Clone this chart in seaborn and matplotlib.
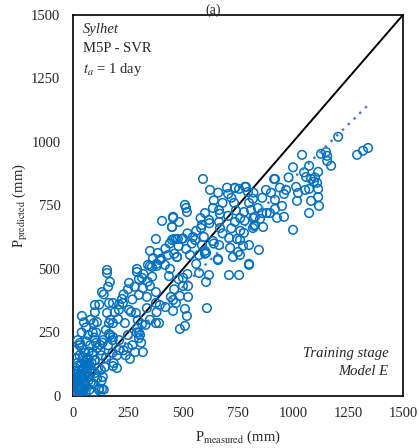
import numpy as np
import pandas as pd
import matplotlib
matplotlib.use("Agg")
import matplotlib.pyplot as plt
import seaborn as sns

# valores (mm)
p_measured = [
    2, 3, 5, 6, 8, 10, 4, 12, 15, 7, 18, 20, 3, 10, 25, 14, 22, 28, 9, 30,
    35, 5, 16, 40, 12, 25, 45, 50, 20, 35, 55, 60, 8, 30, 48, 65, 70, 15, 40, 75,
    80, 85, 22, 55, 90, 95, 100, 110, 60, 120, 130, 140, 115, 1, 2, 4, 6, 3, 11, 13,
    19, 24, 33, 38, 42, 0, 1, 0, 2, 17, 27, 44, 52, 58, 66, 72, 78, 88, 98, 105,
    125, 135, 150, 160, 170, 185, 200, 210, 230, 250, 270, 290, 310, 240, 180,
    155, 168, 132, 100, 41, 164, 182, 223, 227, 255, 291, 314, 350, 318, 377, 300, 336,
    255, 264, 209, 155, 95, 109, 164, 182, 205, 236, 295, 314, 377, 391, 305, 300, 291,
    164, 182, 136, 105, 123, 32, 209, 259, 282, 318, 45, 64, 73, 100, 182, 145, 127,
    100, 136, 132, 118, 45, 436, 441, 418, 382, 359, 341, 445, 455, 377, 395, 336, 286,
    800, 709, 755, 618, 605, 609, 523, 523, 500, 486, 468, 455, 509, 518, 509, 486,
    500, 573, 659,
    405, 455, 450, 450, 468, 377, 350, 386, 432, 364, 395, 350, 473, 155, 291,
    591, 623, 705, 736, 755, 786, 795, 818, 877, 914, 732, 509, 514, 518, 455, 482,
    450, 636, 664, 668, 705, 777, 809, 827, 850, 618, 664, 736, 586, 582, 827, 818,
    777, 668, 459, 477, 495, 545, 555, 595, 636, 709, 745, 759, 514, 586, 664, 714,
    773, 800, 845, 750, 759, 727, 659, 800, 605, 473, 532, 573, 600,
    1205, 1291, 1318, 1341, 1041, 1127, 1155, 1155, 1173, 1073, 1114, 918, 1059, 1082,
    1095, 1109, 1014, 1055, 1073, 1114, 1114, 1023, 968, 959, 918, 1018, 1082, 918,
    950, 1118, 1073, 959, 927, 1000, 864, 823, 895, 782, 736,
]
p_predicted = [
    5, 12, 2, 20, 8, 15, 30, 4, 25, 40, 10, 35, 55, 60, 18, 48, 5, 40, 75, 60,
    20, 90, 85, 45, 110, 100, 70, 25, 130, 120, 90, 40, 150, 160, 140, 110, 60, 180, 190, 25,
    90, 130, 220, 170, 50, 15, 140, 70, 215, 30, 60, 25, 110, 1, 3, 8, 4, 18, 2, 30,
    16, 55, 8, 75, 100, 10, 25, 40, 70, 62, 80, 8, 55, 130, 150, 175, 200, 170, 230, 250,
    180, 210, 150, 200, 240, 130, 110, 220, 180, 240, 200, 250, 210, 160, 170,
    484, 449, 409, 358, 315, 366, 366, 382, 366, 445, 488, 465, 433, 425, 409, 398, 390,
    339, 331, 339, 327, 287, 291, 287, 287, 303, 287, 299, 283, 287, 287, 240, 228, 268,
    244, 232, 220, 209, 201, 209, 181, 146, 173, 173, 150, 146, 130, 142, 118, 114, 102,
    91, 75, 28, 24, 35, 472, 500, 516, 512, 508, 516, 390, 378, 366, 358, 346, 327,
    516, 476, 476, 476, 449, 346, 390, 433, 433, 394, 366, 335, 343, 315, 276, 264,
    465, 484, 535,
    689, 705, 665, 614, 618, 618, 571, 563, 555, 543, 535, 512, 547, 496, 500,
    854, 811, 795, 819, 815, 823, 803, 776, 811, 854, 760, 752, 740, 724, 701, 685,
    665, 740, 732, 717, 709, 724, 732, 705, 697, 693, 685, 685, 673, 661, 673, 661,
    642, 661, 618, 618, 618, 626, 614, 626, 610, 622, 618, 614, 579, 594, 594, 583,
    591, 594, 575, 567, 555, 547, 539, 520, 563, 547, 555, 555, 571,
    1020, 949, 965, 976, 949, 953, 945, 925, 906, 906, 882, 854, 862, 854,
    843, 839, 823, 811, 815, 815, 783, 799, 811, 795, 772, 768, 768, 736,
    748, 748, 720, 705, 701, 654, 665, 669, 720, 823, 819,
]
# puntos adicionales de la nube central y del origen
extra_measured = [
    150, 170, 190, 210, 230, 250, 270, 280, 300, 320, 340, 360, 380, 400, 420, 440,
    460, 480, 500, 520, 540, 560, 580, 600, 620, 640, 660, 680, 700, 720, 740, 760,
    780, 800, 820, 840, 860, 880, 900, 940, 980, 1000, 1050, 1150, 1100,
    350, 380, 420, 460, 480, 520, 560, 600, 640, 680, 720, 760, 820, 860,
    250, 200, 300, 330, 180, 130, 110, 90, 70, 60, 40, 50, 30, 80, 100, 120, 140, 160,
    1, 3, 5, 7, 9, 11, 14, 16, 18, 21, 23, 26, 29, 31, 34, 37, 39, 43, 46, 49,
    53, 57, 62, 67, 74, 82, 87, 93,
]
extra_predicted = [
    260, 300, 330, 360, 400, 420, 380, 430, 460, 480, 450, 470, 520, 540, 580, 600,
    560, 590, 620, 640, 600, 650, 700, 720, 680, 770, 800, 760, 820, 780, 730, 700,
    690, 760, 800, 740, 780, 720, 800, 820, 860, 900, 880, 960, 860,
    300, 330, 350, 420, 460, 480, 520, 560, 600, 640, 660, 650, 700, 720,
    190, 160, 250, 280, 220, 160, 190, 250, 240, 270, 250, 290, 200, 300, 330, 360, 400, 430,
    5, 3, 10, 15, 22, 8, 14, 35, 45, 28, 12, 50, 22, 5, 40, 60, 30, 85, 20, 110,
    80, 45, 95, 120, 75, 55, 100, 160,
]
# linea de tendencia
trend_slope = 0.85
trend_intercept = 5
trend_xmax = 1335

ticks = [0, 250, 500, 750, 1000, 1250, 1500]

df = pd.DataFrame({'medido': p_measured + extra_measured,
                   'predicho': p_predicted + extra_predicted})

sns.set_style("white")
plt.rcParams['font.family'] = ['Liberation Serif', 'DejaVu Serif']
plt.rcParams['mathtext.fontset'] = 'stix'

azul = '#0070C0'

fig = plt.figure(figsize=(4.19, 4.48), dpi=100)
ax = fig.add_axes([0.174, 0.116, 0.788, 0.851])

sns.scatterplot(data=df, x='medido', y='predicho', ax=ax, marker='o', s=38,
                linewidth=1.1, zorder=3)
pts = ax.collections[0]
pts.set_facecolor('none')
pts.set_edgecolor(azul)

# linea 1:1
ax.plot([0, 1500], [0, 1500], color='black', lw=1.4, zorder=2)
# tendencia
xt = np.array([0, trend_xmax])
ax.plot(xt, trend_slope * xt + trend_intercept, color='#4472C4', lw=1.7,
        linestyle=(0, (1, 2.4)), zorder=4)

ax.set_xlim(0, 1500)
ax.set_ylim(0, 1500)
ax.set_xticks(ticks)
ax.set_yticks(ticks)
ax.tick_params(length=0, labelsize=10.5)
ax.tick_params(axis='y', pad=9)
ax.tick_params(axis='x', pad=8)
for s in ax.spines.values():
    s.set_color('black')
    s.set_linewidth(1.2)

ax.set_xlabel(r'P$_{\mathrm{measured}}$ (mm)', fontsize=10.5, labelpad=6)
ax.set_ylabel(r'P$_{\mathrm{predicted}}$ (mm)', fontsize=10.5, labelpad=1)

ax.text(0.03, 0.978, 'Sylhet', transform=ax.transAxes, fontsize=10.5,
        style='italic', va='top')
ax.text(0.03, 0.928, 'M5P - SVR', transform=ax.transAxes, fontsize=10.5, va='top')
ax.text(0.03, 0.878, r'$t_a$ = 1 day', transform=ax.transAxes, fontsize=10.5, va='top')

ax.text(0.955, 0.103, 'Training stage', transform=ax.transAxes, fontsize=10.5,
        style='italic', ha='right', va='baseline')
ax.text(0.955, 0.056, 'Model E', transform=ax.transAxes, fontsize=10.5,
        style='italic', ha='right', va='baseline')

fig.text(0.508, 0.993, '(a)', fontsize=10, ha='center', va='top')

fig.savefig('out.png', dpi=100)
